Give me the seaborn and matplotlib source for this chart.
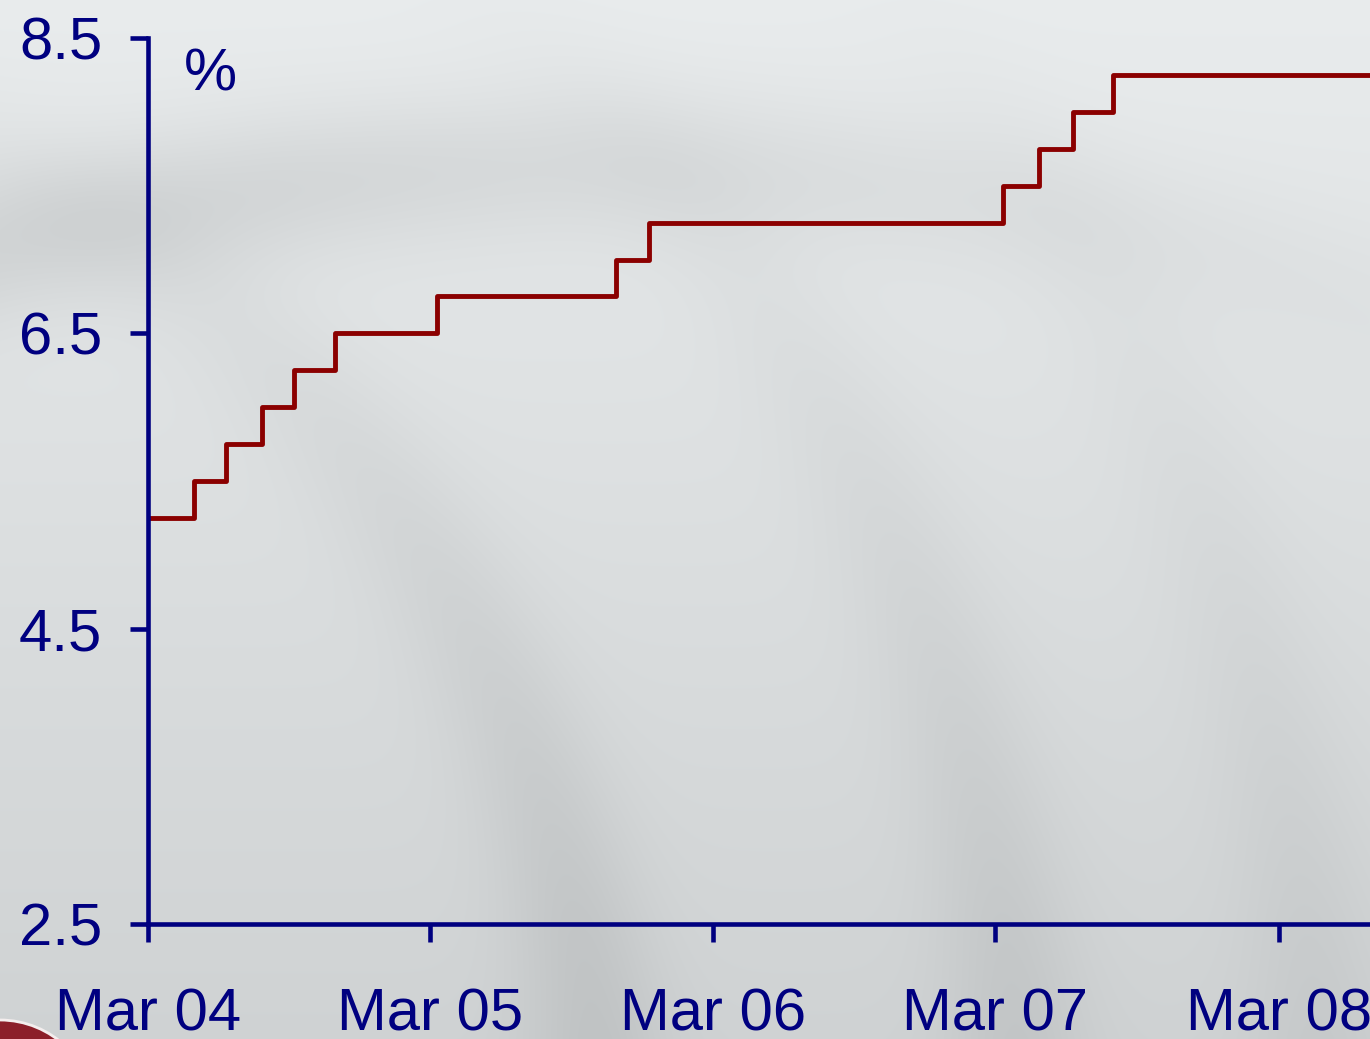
import matplotlib
matplotlib.use("Agg")
import matplotlib.pyplot as plt
import matplotlib.dates as mdates
from matplotlib.patches import Circle
import numpy as np
import pandas as pd
import seaborn as sns

# policy rate steps (date of change, new level in %)
CHANGE_DATES = ["2004-03-01", "2004-04-29", "2004-06-10", "2004-07-26", "2004-09-06",
                "2004-10-28", "2005-03-10", "2005-10-27", "2005-12-08", "2007-03-11",
                "2007-04-26", "2007-06-09", "2007-07-31", "2008-06-27"]
RATES = [5.25, 5.5, 5.75, 6.0, 6.25, 6.5, 6.75, 7.0, 7.25, 7.5, 7.75, 8.0, 8.25, 8.25]
Y_TICKS = [2.5, 4.5, 6.5, 8.5]
X_START, X_END = "2004-03-01", "2008-06-27"

NAVY = "#000080"
RED = "#8b0000"
W, H = 1370, 1039

sns.set_style("white")
plt.rcParams["font.family"] = ["Liberation Sans", "DejaVu Sans"]

df = pd.DataFrame({"date": pd.to_datetime(CHANGE_DATES), "rate": RATES})


def background() -> np.ndarray:
    # soft grey backdrop with blurred arcs
    yy, xx = np.mgrid[0:H, 0:W].astype(float)
    v = 0.925 - 0.10 * (yy / H)
    dark = np.zeros_like(v)
    # wide, flat arc near the top, stronger on the left
    d = np.hypot(xx - 600, yy - 2500)
    dark += 0.065 * np.exp(-((d - 2335) / 75) ** 2) * np.clip(1.2 - xx / W, 0.2, 1)
    # rings opening towards the bottom-right
    d = np.hypot(xx + 520, yy - 1150)
    for r, a in [(1120, 0.06), (1540, 0.05), (1840, 0.035)]:
        dark += a * np.exp(-((d - r) / 70) ** 2) * np.clip(yy / H + 0.1, 0, 1)
    v = v - dark
    img = np.stack([v - 0.012, v, v + 0.004], axis=-1)
    return np.clip(img, 0, 1)


fig = plt.figure(figsize=(W / 100, H / 100), dpi=100)
bg = fig.add_axes([0, 0, 1, 1], zorder=-1)
bg.imshow(background(), aspect="auto", extent=[0, 1, 0, 1], interpolation="bilinear")
bg.axis("off")

ax = fig.add_axes([148 / W, 115 / H, 1 - 148 / W, 886 / H])
ax.patch.set_alpha(0)

sns.lineplot(data=df, x="date", y="rate", ax=ax, drawstyle="steps-post",
             estimator=None, sort=False, color=RED, linewidth=3.5)

ax.set_xlim(pd.Timestamp(X_START), pd.Timestamp(X_END))
ax.set_ylim(Y_TICKS[0], Y_TICKS[-1])
ax.set_yticks(Y_TICKS)
ax.set_yticklabels([f"{t:.1f}" for t in Y_TICKS])
ax.xaxis.set_major_locator(mdates.YearLocator(month=3, day=1))
ax.xaxis.set_major_formatter(mdates.DateFormatter("%b %y"))
ax.set_xlabel("")
ax.set_ylabel("")

for side in ["top", "right"]:
    ax.spines[side].set_visible(False)
for side in ["left", "bottom"]:
    ax.spines[side].set_color(NAVY)
    ax.spines[side].set_linewidth(3.3)

ax.tick_params(axis="both", direction="out", length=13, width=3.3, color=NAVY,
               labelcolor=NAVY, labelsize=43)
ax.tick_params(axis="y", pad=20, left=True)
ax.tick_params(axis="x", pad=33, bottom=True)
ax.grid(False)

ax.text(0.051, 0.958, "%", transform=ax.transAxes, ha="center", va="center",
        fontsize=43, color=NAVY)

# corner of the logo peeking in at bottom left
fig.add_artist(Circle((0.0, -0.76), 0.95, transform=fig.dpi_scale_trans,
                      facecolor="#8c1f2a", edgecolor="#f4eeee", linewidth=2.0,
                      clip_on=False))

fig.savefig("out.png", dpi=100)
